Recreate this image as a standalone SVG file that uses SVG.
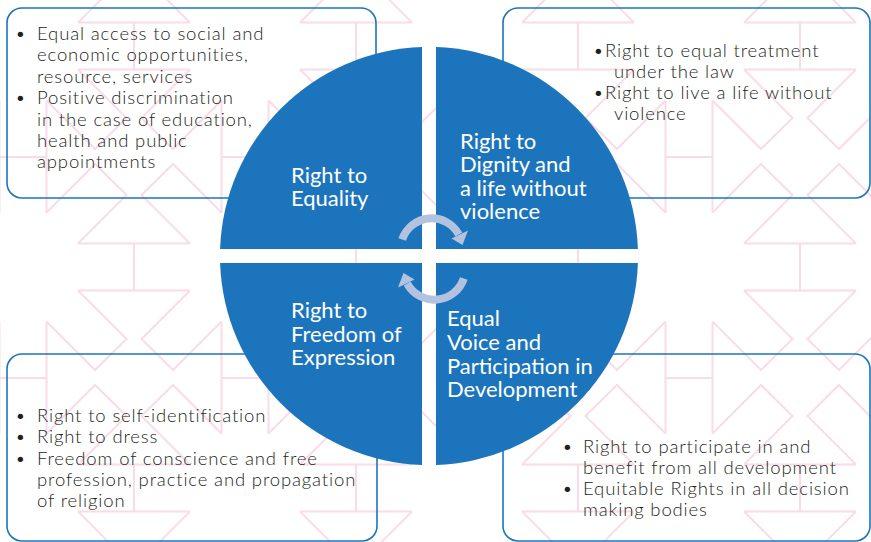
<svg xmlns="http://www.w3.org/2000/svg" width="871" height="542" viewBox="0 0 871 542">
<style>
.box{fill:none;stroke:#1c75bc;stroke-width:1.6}
.q{fill:#1c75bc}
.t{font-family:Lato,"Liberation Sans",sans-serif;font-weight:300;font-size:18.5px;letter-spacing:0.85px;fill:#231f20}
.w{font-family:Lato,"Liberation Sans",sans-serif;font-weight:400;font-size:22px;fill:#ffffff}
.pat{fill:none;stroke:#f9dce8;stroke-width:2}
.arr{fill:#b3c3df}
</style>
<defs>
<path id="hn" d="M-56,-23.5 H56 M0,-23.5 V23.5 M-56,23.5 H56 M-56,-23.5 L-7.5,-72 L-39,-103 L-87.5,-54.5 M56,-23.5 L7.5,-72 L39,-103 L87.5,-54.5 M-56,23.5 L-7.5,72 L-39,103 L-87.5,54.5 M56,23.5 L7.5,72 L39,103 L87.5,54.5"/>
<path id="hr" d="M-23.5,-56 V56 M23.5,-56 V56 M-23.5,0 H23.5"/>
</defs>
<rect width="871" height="542" fill="#ffffff"/>
<g id="pattern" class="pat">
<use href="#hn" x="134" y="46"/><use href="#hn" x="356" y="46"/><use href="#hn" x="578" y="46"/><use href="#hn" x="800" y="46"/>
<use href="#hn" x="134" y="267"/><use href="#hn" x="356" y="267"/><use href="#hn" x="578" y="267"/><use href="#hn" x="800" y="267"/>
<use href="#hn" x="134" y="488"/><use href="#hn" x="356" y="488"/><use href="#hn" x="578" y="488"/><use href="#hn" x="800" y="488"/>
<use href="#hr" x="23" y="157"/><use href="#hr" x="245" y="157"/><use href="#hr" x="467" y="157"/><use href="#hr" x="689" y="157"/>
<use href="#hr" x="23" y="378"/><use href="#hr" x="245" y="378"/><use href="#hr" x="467" y="378"/><use href="#hr" x="689" y="378"/>
</g>
<g id="box-tl"><rect class="box" x="7" y="8" width="369" height="190" rx="15"/>
<text class="t"><tspan x="15" y="39.5">•</tspan><tspan x="37" y="39.5">Equal access to social and</tspan><tspan x="37" y="61">economic opportunities,</tspan><tspan x="37" y="82.5">resource, services</tspan><tspan x="15" y="104">•</tspan><tspan x="37" y="104">Positive discrimination</tspan><tspan x="37" y="125.5">in the case of education,</tspan><tspan x="37" y="147">health and public</tspan><tspan x="37" y="168">appointments</tspan></text></g>
<g id="box-tr"><rect class="box" x="503" y="8" width="367" height="190" rx="15"/>
<text class="t"><tspan x="593" y="56.5">•</tspan><tspan x="605" y="56.5">Right to equal treatment</tspan><tspan x="614" y="77.5">under the law</tspan><tspan x="593" y="98.5">•</tspan><tspan x="605" y="98.5">Right to live a life without</tspan><tspan x="614" y="119.5">violence</tspan></text></g>
<g id="box-bl"><rect class="box" x="7" y="354" width="370" height="187" rx="15"/>
<text class="t"><tspan x="15" y="421.5">•</tspan><tspan x="37" y="421.5">Right to self-identification</tspan><tspan x="15" y="443">•</tspan><tspan x="37" y="443">Right to dress</tspan><tspan x="15" y="464.5">•</tspan><tspan x="37" y="464.5">Freedom of conscience and free</tspan><tspan x="37" y="486">profession, practice and propagation</tspan><tspan x="37" y="507">of religion</tspan></text></g>
<g id="box-br"><rect class="box" x="503" y="354" width="367" height="187" rx="15"/>
<text class="t"><tspan x="562" y="452.5">•</tspan><tspan x="583" y="452.5">Right to participate in and</tspan><tspan x="583" y="473.5">benefit from all development</tspan><tspan x="562" y="495">•</tspan><tspan x="583" y="495">Equitable Rights in all decision</tspan><tspan x="583" y="516">making bodies</tspan></text></g>
<g id="q-tl"><path class="q" d="M422,249 L422,47.1 A209,209 0 0 0 220.1,249 Z"/>
<text class="w"><tspan x="291" y="182.5">Right to</tspan><tspan x="291" y="205.5">Equality</tspan></text></g>
<g id="q-tr"><path class="q" d="M436,249 L436,47.1 A209,209 0 0 1 637.9,249 Z"/>
<text class="w"><tspan x="460" y="148.5">Right to</tspan><tspan x="460" y="172">Dignity and</tspan><tspan x="460" y="195.5">a life without</tspan><tspan x="460" y="219">violence</tspan></text></g>
<g id="q-bl"><path class="q" d="M422,263 L422,464.9 A209,209 0 0 1 220.1,263 Z"/>
<text class="w"><tspan x="291" y="317.5">Right to</tspan><tspan x="291" y="341.5">Freedom of</tspan><tspan x="291" y="365">Expression</tspan></text></g>
<g id="q-br"><path class="q" d="M436,263 L436,464.9 A209,209 0 0 0 637.9,263 Z"/>
<text class="w"><tspan x="447" y="326">Equal</tspan><tspan x="447" y="350">Voice and</tspan><tspan x="447" y="373.5">Participation in</tspan><tspan x="447" y="397">Development</tspan></text></g>
<g id="connectors">
<g id="arrow-top">
<path class="arr" d="M398.4,238.3 A35,35 0 0 1 462.3,232.5 L455.4,236.5 A27,27 0 0 0 406.0,240.8 Z"/>
<polygon class="arr" points="451.5,238.5 468.0,230.5 462.5,245"/>
</g>
<g id="arrow-bottom" transform="rotate(180,433,259)">
<path class="arr" d="M398.4,238.3 A35,35 0 0 1 462.3,232.5 L455.4,236.5 A27,27 0 0 0 406.0,240.8 Z"/>
<polygon class="arr" points="451.5,238.5 468.0,230.5 462.5,245"/>
</g>
</g>
</svg>
